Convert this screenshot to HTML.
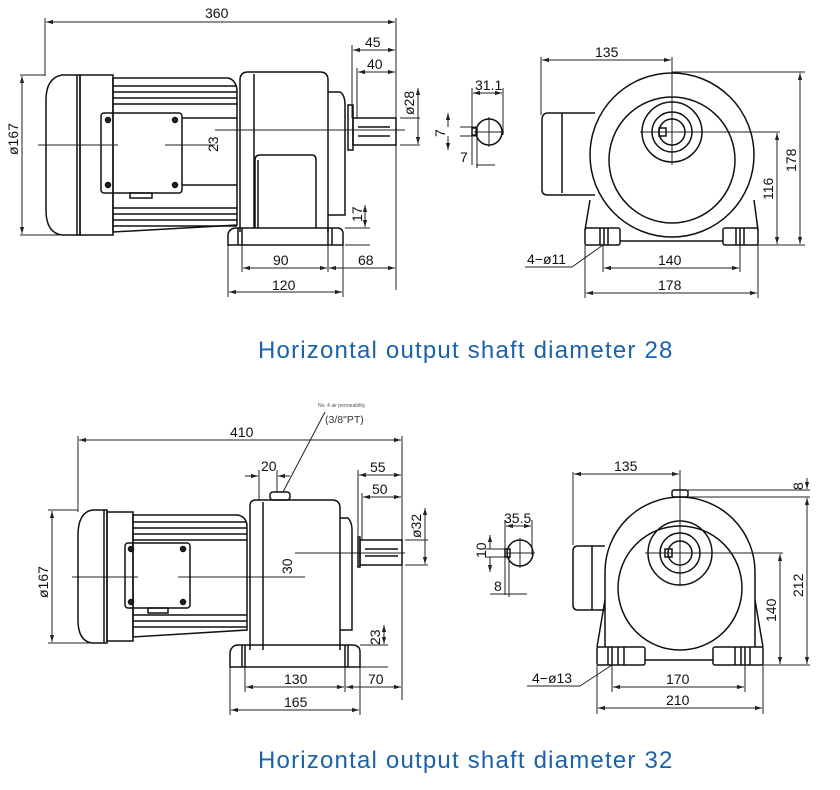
<!DOCTYPE html>
<html><head><meta charset="utf-8"><style>
html,body{margin:0;padding:0;background:#fff;}
svg{display:block}
.l{stroke:#111;stroke-width:1.5;fill:none}
.t{stroke:#222;stroke-width:1;fill:none}
.d{font-family:"Liberation Sans",sans-serif;font-size:14px;fill:#111}
.cap{font-family:"Liberation Sans",sans-serif;font-size:24px;fill:#1a63a8;letter-spacing:1.2px}
</style></head><body>
<svg width="840" height="790" viewBox="0 0 840 790" xmlns="http://www.w3.org/2000/svg">
<defs>
<marker id="a" viewBox="0 0 10 10" refX="10" refY="5" markerWidth="7" markerHeight="7" orient="auto-start-reverse"><path d="M0,2 L10,5 L0,8 z" fill="#222"/></marker>
</defs>

<!-- ================= TOP LEFT ================= -->
<g class="t">
<line x1="45" y1="18" x2="45" y2="76"/><line x1="396" y1="18" x2="396" y2="290"/>
<line x1="352" y1="45" x2="352" y2="118"/><line x1="357" y1="68" x2="357" y2="118"/>
<line x1="228" y1="240" x2="228" y2="297"/><line x1="242" y1="240" x2="242" y2="272"/>
<line x1="328" y1="240" x2="328" y2="272"/><line x1="343" y1="240" x2="343" y2="297"/>
<line x1="20" y1="75" x2="45" y2="75"/><line x1="20" y1="235" x2="60" y2="235"/>
<line x1="400" y1="118" x2="420" y2="118"/><line x1="400" y1="145" x2="420" y2="145"/>
<line x1="345" y1="228" x2="370" y2="228"/><line x1="345" y1="245" x2="370" y2="245"/>
</g>
<g class="t" marker-start="url(#a)" marker-end="url(#a)">
<line x1="46" y1="22" x2="395" y2="22"/>
<line x1="353" y1="50" x2="395" y2="50"/>
<line x1="358" y1="72" x2="395" y2="72"/>
<line x1="22" y1="76" x2="22" y2="234"/>
<line x1="418" y1="88" x2="418" y2="144"/>
<line x1="243" y1="268" x2="327" y2="268"/>
<line x1="329" y1="268" x2="395" y2="268"/>
<line x1="229" y1="292" x2="342" y2="292"/>
<line x1="365" y1="205" x2="365" y2="227"/>
</g>
<text class="d" x="205" y="18">360</text>
<text class="d" x="365" y="47">45</text>
<text class="d" x="367" y="69">40</text>
<text class="d" x="273" y="265">90</text>
<text class="d" x="358" y="265">68</text>
<text class="d" x="272" y="290">120</text>
<text class="d" transform="translate(18,155) rotate(-90)">ø167</text>
<text class="d" transform="translate(414,115) rotate(-90)">ø28</text>
<text class="d" transform="translate(218,152) rotate(-90)">23</text>
<text class="d" transform="translate(362,222) rotate(-90)">17</text>
<g class="l">
<path d="M80,75 L62,75 Q46,78 46,100 L46,210 Q46,233 62,235 L80,235 Z"/>
<line x1="77" y1="75" x2="77" y2="235"/>
<rect x="80" y="75" width="33" height="160"/>
<path d="M113,78 L228,78 Q236,80 237,90 L237,225 L113,232 Z"/>
<line x1="113" y1="86" x2="237" y2="86"/><line x1="113" y1="92" x2="237" y2="92"/>
<line x1="113" y1="98" x2="237" y2="98"/><line x1="113" y1="104" x2="237" y2="104"/>
<line x1="113" y1="208" x2="237" y2="208"/><line x1="113" y1="214" x2="237" y2="214"/>
<line x1="113" y1="220" x2="237" y2="220"/><line x1="113" y1="226" x2="237" y2="226"/>
<line x1="182" y1="118" x2="237" y2="118"/><line x1="182" y1="185" x2="237" y2="185"/>
<rect x="101" y="113" width="81" height="80" rx="3"/>
<rect x="130" y="193" width="22" height="5"/>
<circle cx="108" cy="120" r="2.5" fill="#222"/><circle cx="175" cy="120" r="2.5" fill="#222"/>
<circle cx="108" cy="185" r="2.5" fill="#222"/><circle cx="175" cy="185" r="2.5" fill="#222"/>
<path d="M240,232 L240,80 Q240,72 248,72 L320,72 Q328,72 328,80 L328,232"/>
<line x1="254" y1="74" x2="254" y2="228"/>
<path d="M255,228 L255,160 Q255,155 260,155 L312,155 Q316,155 316,160 L316,228"/>
<line x1="258" y1="160" x2="258" y2="228"/>
<path d="M328,92 L340,92 Q345,95 345,105 L345,215 L328,215"/>
<rect x="348" y="105" width="5" height="45"/>
<rect x="353" y="118" width="43" height="27"/>
<line x1="358" y1="127" x2="390" y2="127"/><line x1="358" y1="136" x2="390" y2="136"/>
<path d="M228,245 L228,234 Q230,228 236,228 L337,228 Q343,228 343,234 L343,245 Z"/>
<line x1="238" y1="228" x2="238" y2="245"/><line x1="242" y1="228" x2="242" y2="245"/>
<line x1="328" y1="228" x2="328" y2="245"/><line x1="332" y1="228" x2="332" y2="245"/>
</g>
<g class="t">
<line x1="38" y1="145" x2="118" y2="145"/><line x1="165" y1="145" x2="215" y2="145"/>
<line x1="215" y1="130" x2="405" y2="130"/>
</g>

<!-- key 1 -->
<g class="t">
<line x1="472" y1="88" x2="472" y2="165"/><line x1="503" y1="88" x2="503" y2="135"/>
<line x1="460" y1="127" x2="476" y2="127"/><line x1="460" y1="136" x2="476" y2="136"/>
<line x1="476" y1="165" x2="495" y2="165"/><line x1="477" y1="136" x2="477" y2="168"/>
</g>
<g class="t" marker-start="url(#a)" marker-end="url(#a)"><line x1="473" y1="93" x2="502" y2="93"/></g>
<line class="t" x1="448" y1="127" x2="448" y2="113" marker-end="url(#a)"/>
<line class="t" x1="448" y1="136" x2="448" y2="150" marker-end="url(#a)"/>
<text class="d" x="475" y="90">31.1</text>
<text class="d" transform="translate(445,137) rotate(-90)">7</text>
<text class="d" x="460" y="162">7</text>
<g class="l"><circle cx="489" cy="132" r="13"/><rect x="472" y="128" width="5" height="7"/></g>
<g class="t"><line x1="489" y1="117" x2="489" y2="147"/><line x1="474" y1="132" x2="504" y2="132"/></g>

<!-- ================= TOP RIGHT ================= -->
<g class="t">
<line x1="541" y1="57" x2="541" y2="115"/><line x1="672" y1="57" x2="672" y2="165"/>
<line x1="672" y1="72" x2="805" y2="72"/><line x1="640" y1="132" x2="780" y2="132"/>
<line x1="758" y1="245" x2="805" y2="245"/>
<line x1="585" y1="245" x2="585" y2="298"/><line x1="603" y1="245" x2="603" y2="272"/>
<line x1="740" y1="245" x2="740" y2="272"/><line x1="758" y1="245" x2="758" y2="298"/>
<line x1="525" y1="267" x2="572" y2="267"/><line x1="572" y1="267" x2="603" y2="245"/>
</g>
<g class="t" marker-start="url(#a)" marker-end="url(#a)">
<line x1="542" y1="60" x2="671" y2="60"/>
<line x1="800" y1="73" x2="800" y2="244"/>
<line x1="777" y1="133" x2="777" y2="244"/>
<line x1="604" y1="268" x2="739" y2="268"/>
<line x1="586" y1="293" x2="757" y2="293"/>
</g>
<text class="d" x="595" y="57">135</text>
<text class="d" x="527" y="264">4−ø11</text>
<text class="d" x="658" y="265">140</text>
<text class="d" x="658" y="290">178</text>
<text class="d" transform="translate(796,172) rotate(-90)">178</text>
<text class="d" transform="translate(773,200) rotate(-90)">116</text>
<g class="l">
<circle cx="672" cy="155" r="82"/>
<circle cx="672" cy="160" r="63"/>
<circle cx="672" cy="132" r="30"/>
<circle cx="672" cy="132" r="20"/>
<circle cx="672" cy="132" r="13"/>
<rect x="659" y="128" width="7" height="8"/>
<path d="M595,113 L548,113 Q542,113 542,120 L542,190 Q542,195 548,195 L595,195"/>
<line x1="562" y1="113" x2="562" y2="193"/>
<path d="M590,200 L585,230 M754,200 L758,230"/>
<rect x="585" y="228" width="35" height="17" rx="2"/>
<rect x="723" y="228" width="35" height="17" rx="2"/>
<line x1="600" y1="228" x2="600" y2="245"/><line x1="604" y1="228" x2="604" y2="245"/><line x1="608" y1="228" x2="608" y2="245"/>
<line x1="736" y1="228" x2="736" y2="245"/><line x1="740" y1="228" x2="740" y2="245"/><line x1="744" y1="228" x2="744" y2="245"/>
<line x1="620" y1="241" x2="723" y2="241"/>
</g>

<text class="cap" x="258" y="358">Horizontal output shaft diameter 28</text>

<!-- ================= BOTTOM LEFT ================= -->
<text x="318" y="407" font-family="Liberation Sans,sans-serif" font-size="5" fill="#555">No. 4 air permeability</text>
<text x="325" y="423" font-family="Liberation Sans,sans-serif" font-size="10.5" fill="#333">(3/8"PT)</text>
<g class="t">
<line x1="325" y1="412" x2="283" y2="492"/>
<line x1="78" y1="436" x2="78" y2="512"/><line x1="402" y1="436" x2="402" y2="700"/>
<line x1="259" y1="470" x2="259" y2="500"/><line x1="277" y1="470" x2="277" y2="492"/>
<line x1="358" y1="470" x2="358" y2="540"/><line x1="362" y1="493" x2="362" y2="540"/>
<line x1="230" y1="660" x2="230" y2="715"/><line x1="245" y1="660" x2="245" y2="692"/>
<line x1="345" y1="660" x2="345" y2="692"/><line x1="360" y1="660" x2="360" y2="715"/>
<line x1="48" y1="510" x2="78" y2="510"/><line x1="48" y1="643" x2="90" y2="643"/>
<line x1="405" y1="540" x2="428" y2="540"/><line x1="405" y1="565" x2="428" y2="565"/>
<line x1="360" y1="645" x2="388" y2="645"/><line x1="360" y1="667" x2="388" y2="667"/>
<line x1="72" y1="577" x2="138" y2="577"/><line x1="178" y1="577" x2="305" y2="577"/>
<line x1="295" y1="553" x2="405" y2="553"/>
</g>
<g class="t" marker-start="url(#a)" marker-end="url(#a)">
<line x1="79" y1="440" x2="401" y2="440"/>
<line x1="359" y1="475" x2="401" y2="475"/>
<line x1="363" y1="497" x2="401" y2="497"/>
<line x1="52" y1="511" x2="52" y2="642"/>
<line x1="425" y1="508" x2="425" y2="564"/>
<line x1="246" y1="687" x2="344" y2="687"/>
<line x1="346" y1="687" x2="401" y2="687"/>
<line x1="231" y1="710" x2="359" y2="710"/>
<line x1="384" y1="625" x2="384" y2="644"/>
</g>
<line class="t" x1="245" y1="476" x2="258" y2="476" marker-end="url(#a)"/>
<line class="t" x1="290" y1="476" x2="278" y2="476" marker-end="url(#a)"/>
<text class="d" x="230" y="437">410</text>
<text class="d" x="261" y="471">20</text>
<text class="d" x="370" y="472">55</text>
<text class="d" x="372" y="494">50</text>
<text class="d" x="284" y="684">130</text>
<text class="d" x="368" y="684">70</text>
<text class="d" x="284" y="707">165</text>
<text class="d" transform="translate(48,598) rotate(-90)">ø167</text>
<text class="d" transform="translate(421,538) rotate(-90)">ø32</text>
<text class="d" transform="translate(292,574) rotate(-90)">30</text>
<text class="d" transform="translate(380,645) rotate(-90)">23</text>
<g class="l">
<path d="M107,510 L92,510 Q78,513 78,535 L78,620 Q78,641 92,643 L107,643 Z"/>
<line x1="104" y1="510" x2="104" y2="643"/>
<rect x="107" y="512" width="26" height="129"/>
<path d="M133,515 L238,515 Q246,517 247,525 L247,630 L133,637 Z"/>
<line x1="133" y1="522" x2="247" y2="522"/><line x1="133" y1="528" x2="247" y2="528"/>
<line x1="133" y1="534" x2="247" y2="534"/><line x1="133" y1="540" x2="247" y2="540"/>
<line x1="133" y1="615" x2="247" y2="615"/><line x1="133" y1="621" x2="247" y2="621"/>
<line x1="133" y1="627" x2="247" y2="627"/>
<rect x="125" y="543" width="65" height="65" rx="3"/>
<rect x="148" y="608" width="20" height="5"/>
<circle cx="131" cy="549" r="2.5" fill="#222"/><circle cx="183" cy="549" r="2.5" fill="#222"/>
<circle cx="131" cy="602" r="2.5" fill="#222"/><circle cx="183" cy="602" r="2.5" fill="#222"/>
<path d="M250,650 L250,506 Q250,500 256,500 L332,500 Q340,500 340,508 L340,650"/>
<line x1="263" y1="502" x2="263" y2="650"/>
<path d="M340,518 L348,518 Q352,522 352,530 L352,630 L340,630"/>
<rect x="358" y="537" width="2" height="30"/>
<rect x="360" y="540" width="42" height="25"/>
<line x1="365" y1="549" x2="398" y2="549"/><line x1="365" y1="556" x2="398" y2="556"/>
<rect x="270" y="492" width="20" height="8" rx="3"/>
<path d="M230,667 L230,652 Q232,645 238,645 L352,645 Q360,645 360,652 L360,667 Z"/>
<line x1="242" y1="645" x2="242" y2="667"/><line x1="245" y1="645" x2="245" y2="667"/>
<line x1="345" y1="645" x2="345" y2="667"/><line x1="348" y1="645" x2="348" y2="667"/>
</g>

<!-- key 2 -->
<g class="t">
<line x1="505" y1="520" x2="505" y2="595"/><line x1="532" y1="520" x2="532" y2="555"/>
<line x1="485" y1="549" x2="510" y2="549"/><line x1="485" y1="557" x2="510" y2="557"/>
<line x1="490" y1="594" x2="527" y2="594"/><line x1="509" y1="557" x2="509" y2="597"/>
</g>
<g class="t" marker-start="url(#a)" marker-end="url(#a)"><line x1="506" y1="526" x2="531" y2="526"/></g>
<line class="t" x1="490" y1="549" x2="490" y2="535" marker-end="url(#a)"/>
<line class="t" x1="490" y1="557" x2="490" y2="572" marker-end="url(#a)"/>
<text class="d" x="504" y="523">35.5</text>
<text class="d" transform="translate(486,558) rotate(-90)">10</text>
<text class="d" x="494" y="591">8</text>
<g class="l"><circle cx="520" cy="553" r="13"/><rect x="505" y="549" width="5" height="8"/></g>
<g class="t"><line x1="520" y1="538" x2="520" y2="568"/><line x1="506" y1="553" x2="535" y2="553"/></g>

<!-- ================= BOTTOM RIGHT ================= -->
<g class="t">
<line x1="573" y1="472" x2="573" y2="545"/><line x1="680" y1="470" x2="680" y2="585"/>
<line x1="688" y1="490" x2="810" y2="490"/><line x1="688" y1="497" x2="810" y2="497"/>
<line x1="645" y1="553" x2="783" y2="553"/>
<line x1="763" y1="665" x2="810" y2="665"/>
<line x1="597" y1="665" x2="597" y2="714"/><line x1="612" y1="665" x2="612" y2="692"/>
<line x1="745" y1="665" x2="745" y2="692"/><line x1="763" y1="665" x2="763" y2="714"/>
<line x1="527" y1="686" x2="580" y2="686"/><line x1="580" y1="686" x2="612" y2="665"/>
</g>
<g class="t" marker-start="url(#a)" marker-end="url(#a)">
<line x1="574" y1="474" x2="679" y2="474"/>
<line x1="807" y1="498" x2="807" y2="664"/>
<line x1="780" y1="554" x2="780" y2="664"/>
<line x1="613" y1="687" x2="744" y2="687"/>
<line x1="598" y1="708" x2="762" y2="708"/>
</g>
<line class="t" x1="807" y1="478" x2="807" y2="489" marker-end="url(#a)"/>
<text class="d" x="614" y="471">135</text>
<text class="d" x="532" y="683">4−ø13</text>
<text class="d" x="666" y="684">170</text>
<text class="d" x="666" y="705">210</text>
<text class="d" transform="translate(803,597) rotate(-90)">212</text>
<text class="d" transform="translate(776,622) rotate(-90)">140</text>
<text class="d" transform="translate(803,490) rotate(-90)">8</text>
<g class="l">
<path d="M605,647 L605,572 A75,75 0 0 1 755,572 L755,647"/>
<path d="M605,600 L597,647 M755,600 L763,647"/>
<circle cx="680" cy="588" r="62"/>
<circle cx="680" cy="553" r="32"/>
<circle cx="680" cy="553" r="20"/>
<circle cx="680" cy="553" r="12"/>
<rect x="665" y="549" width="7" height="8"/>
<rect x="672" y="490" width="16" height="7" rx="2"/>
<path d="M605,546 L578,546 Q573,546 573,551 L573,605 Q573,610 578,610 L605,610"/>
<line x1="592" y1="546" x2="592" y2="610"/>
<rect x="597" y="647" width="48" height="18" rx="2"/>
<rect x="713" y="647" width="50" height="18" rx="2"/>
<line x1="608" y1="647" x2="608" y2="665"/><line x1="612" y1="647" x2="612" y2="665"/><line x1="618" y1="647" x2="618" y2="665"/><line x1="624" y1="647" x2="624" y2="665"/>
<line x1="735" y1="647" x2="735" y2="665"/><line x1="741" y1="647" x2="741" y2="665"/><line x1="745" y1="647" x2="745" y2="665"/><line x1="750" y1="647" x2="750" y2="665"/>
<line x1="645" y1="660" x2="713" y2="660"/>
</g>

<text class="cap" x="258" y="768">Horizontal output shaft diameter 32</text>
</svg>
</body></html>
